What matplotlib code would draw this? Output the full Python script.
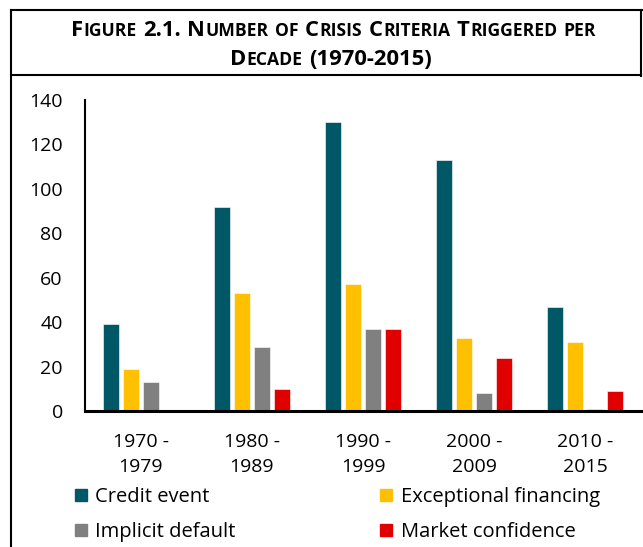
import numpy as np
import matplotlib
matplotlib.use('Agg')
import matplotlib.pyplot as plt
from matplotlib.lines import Line2D

W, H = 643, 547
FONT = 'Open Sans'

DECADES = ['1970 -\n1979', '1980 -\n1989', '1990 -\n1999', '2000 -\n2009', '2010 -\n2015']
SERIES = ['Credit event', 'Exceptional financing', 'Implicit default', 'Market confidence']
CREDIT = [39, 92, 130, 113, 47]
EXCEPTIONAL = [19, 53, 57, 33, 31]
IMPLICIT = [13, 29, 37, 8, 1]
MARKET = [0, 10, 37, 24, 9]
COLORS = ['#005867', '#ffc000', '#808080', '#e00000']

TITLE_LINES = ['Figure 2.1. Number of Crisis Criteria Triggered per',
               'Decade (1970-2015)']

plt.rcParams['font.family'] = [FONT, 'DejaVu Sans']


def px(x, y):
    # pixel (from top-left) -> figure fraction
    return x / W, 1 - y / H


def small_caps(fig, line, xc, y, big, small):
    r = fig.canvas.get_renderer()

    def width(s, size):
        t = fig.text(0, 0, s, fontsize=size, weight='bold')
        w = t.get_window_extent(r).width
        t.remove()
        return w

    space = width('I I', big) - width('II', big)
    words = []
    for word in line.split(' '):
        runs = []
        for ch in word:
            size = small if ch.islower() else big
            if runs and runs[-1][1] == size:
                runs[-1][0] += ch.upper()
            else:
                runs.append([ch.upper(), size])
        words.append([(s, sz, width(s, sz)) for s, sz in runs])
    total = sum(w for runs in words for _, _, w in runs) + space * (len(words) - 1)
    x = xc - total / 2
    for runs in words:
        for s, sz, w in runs:
            fig.text(*px(x, y), s, fontsize=sz, weight='bold',
                     ha='left', va='baseline', color='black')
            x += w + 0.6
        x += space


fig = plt.figure(figsize=(W / 100, H / 100), dpi=100)
ax = fig.add_axes([85 / W, 1 - 411 / H, (641 - 85) / W, (411 - 100) / H])

x = np.arange(len(DECADES))
bw, step = 0.144, 0.18
for i, (vals, c) in enumerate(zip([CREDIT, EXCEPTIONAL, IMPLICIT, MARKET], COLORS)):
    ax.bar(x + (i - 1.5) * step, vals, width=bw, color=c,
           edgecolor='white', linewidth=0.4, zorder=2)

ax.set_xlim(-0.5, len(DECADES) - 0.5)
ax.set_ylim(0, 140)
ax.set_yticks(range(0, 141, 20))
ax.set_xticks(x, DECADES)
ax.tick_params(axis='both', length=0, labelsize=14)
ax.tick_params(axis='y', pad=16)
ax.tick_params(axis='x', pad=15.5)
for lab in ax.get_xticklabels():
    lab.set_linespacing(1.5)
for s in ['top', 'right']:
    ax.spines[s].set_visible(False)
ax.spines['left'].set_linewidth(1.5)
ax.spines['bottom'].set_linewidth(2.2)

# outer frame and title box
lw = 1.5
fig.add_artist(Line2D([11 / W, 11 / W], [0, 1 - 10 / H], color='black', lw=lw))
fig.add_artist(Line2D([11 / W, 1], [1 - 10 / H, 1 - 10 / H], color='black', lw=lw))
fig.add_artist(Line2D([641 / W, 641 / W], [1 - 10 / H, 1 - 76 / H], color='black', lw=lw))
fig.add_artist(Line2D([11 / W, 641 / W], [1 - 75 / H, 1 - 75 / H], color='black', lw=lw))

small_caps(fig, TITLE_LINES[0], 330, 36, 15.8, 12.6)
small_caps(fig, TITLE_LINES[1], 330, 65, 15.8, 12.6)

# legend fills column-wise, so order as credit, implicit | exceptional, market
handles = [Line2D([], [], marker='s', linestyle='', color=c, markersize=9) for c in COLORS]
order = [0, 2, 1, 3]
fig.legend([handles[i] for i in order], [SERIES[i] for i in order], ncol=2,
           loc='upper left', bbox_to_anchor=px(73, 487),
           frameon=False, fontsize=14.5, handlelength=0.75, handletextpad=0.35,
           columnspacing=7.1, labelspacing=0.73, borderpad=0, borderaxespad=0)

fig.savefig('out.png', dpi=100)
